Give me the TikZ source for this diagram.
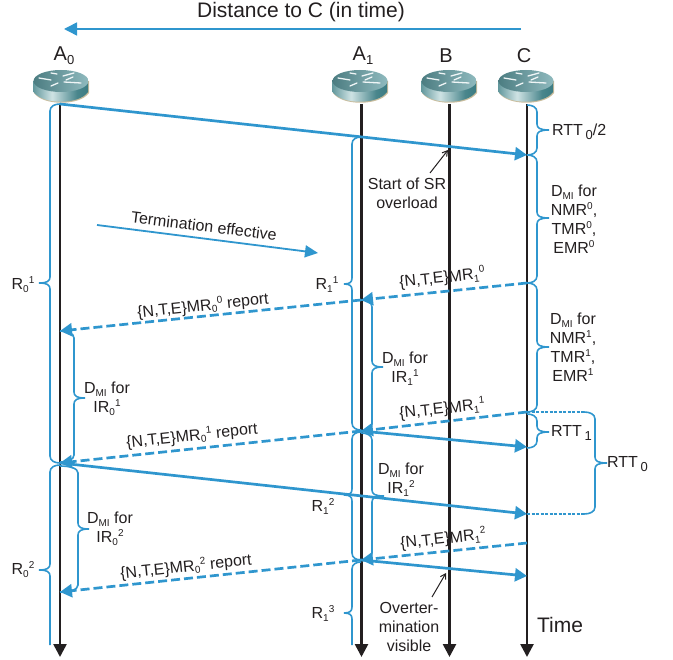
\documentclass[tikz,border=0pt]{standalone}
\usepackage{fontspec}
\setmainfont{Liberation Sans}
\usepackage{tikz}
\usetikzlibrary{arrows.meta}
\definecolor{msgblue}{HTML}{2F96CE}
\definecolor{inkblack}{HTML}{231F20}
\definecolor{routerdark}{HTML}{1C666E}
\definecolor{routerlight}{HTML}{CFE3E4}
\definecolor{routertop}{HTML}{5F9CA2}
\definecolor{routershadow}{HTML}{C9BC9C}
\pgfdeclarehorizontalshading{routerbody}{100bp}{color(0bp)=(routerdark); color(22bp)=(routerdark!70!routerlight); color(42bp)=(routerlight); color(65bp)=(routerdark!75!routerlight); color(100bp)=(routerdark)}
\newcommand{\subs}[1]{\raisebox{-3pt}{\fontsize{10}{10}\selectfont #1}}
\newcommand{\sups}[1]{\raisebox{6pt}{\fontsize{10}{10}\selectfont #1}}
\newcommand{\bigsubs}[1]{\raisebox{-4pt}{\fontsize{13}{13}\selectfont #1}}
% base x, body x, tip x, y top, y tip, y bottom
\newcommand{\curlybrace}[6]{\draw[bracepath] (#1,#4) .. controls ({(#1+#2)/2},#4) and (#2,#4+2) .. (#2,#4+7) -- (#2,#5-6) .. controls (#2,#5-2) and ({(3*#2+#3)/4},#5) .. (#3,#5) .. controls ({(3*#2+#3)/4},#5) and (#2,#5+2) .. (#2,#5+6) -- (#2,#6-7) .. controls (#2,#6-2) and ({(#1+#2)/2},#6) .. (#1,#6);}
\newcommand{\openbrace}[5]{\draw[bracepath] (#1,#4) .. controls ({(#1+#2)/2},#4) and (#2,#4+2) .. (#2,#4+7) -- (#2,#5-6) .. controls (#2,#5-2) and ({(3*#2+#3)/4},#5) .. (#3,#5) .. controls ({(3*#2+#3)/4},#5) and (#2,#5+2) .. (#2,#5+6) -- (#2,645);}
\tikzset{
  timeline/.style={inkblack,line width=2.6pt,-{Triangle[length=13pt,width=13pt]}},
  msgsolid/.style={msgblue,line width=2.7pt,-{Triangle[length=12pt,width=13pt]}},
  msgdashed/.style={msgsolid,dash pattern=on 9pt off 4pt},
  bracepath/.style={msgblue,line width=1.6pt},
  lbl/.style={inkblack,font=\fontsize{16}{19}\selectfont,align=center,inner sep=0pt},
  namelbl/.style={lbl,font=\fontsize{20}{22}\selectfont},
  pics/router/.style={code={
    \fill[routershadow] (-27,-4) -- (-27,8) .. controls (-18,21) and (19,21) .. (28,8) -- (28,-4) -- cycle;
    \shade[shading=routerbody] (-27.5,-4) -- (-27.5,7) .. controls (-18,20) and (18,20) .. (27,7) -- (27,-4) -- cycle;
    \shade[left color=routertop!80!black,right color=routertop!70!white] (0,-4) ellipse (27.5 and 11);
    \draw[white!90!routertop,line width=1.3pt,line cap=round] (-22,-7) -- (-10,-5) (3,-3) -- (20,-2) (-10,1) -- (-3,-2) (2,-9) -- (13,-12) (-4,-11) -- (-10,-12) (5,-5) -- (12,-8);
  }}
}
\begin{document}
\begin{tikzpicture}[x=1pt,y=-1pt]
\useasboundingbox (0,0) rectangle (673,660);
% ==================== ROUTERS ====================
\coordinate (A0top) at (60,104);
\coordinate (A1top) at (361.5,104);
\coordinate (Btop) at (449.5,104);
\coordinate (Ctop) at (527,104);
\coordinate (A0bot) at (60,657);
\coordinate (A1bot) at (361.5,657);
\coordinate (Bbot) at (449.5,657);
\coordinate (Cbot) at (527,657);
% Time lines
\draw[timeline] (A0top) -- (A0bot);
\draw[timeline] (A1top) -- (A1bot);
\draw[timeline] (Btop) -- (Bbot);
\draw[timeline] (Ctop) -- (Cbot);
\pic at (61,85) {router};
\pic at (360,85) {router};
\pic at (449,85) {router};
\pic at (526,85) {router};
\node[namelbl] (nameA0) at (64,56) {A\bigsubs{0}};
\node[namelbl] (nameA1) at (363,56) {A\bigsubs{1}};
\node[namelbl] (nameB) at (446,56) {B};
\node[namelbl] (nameC) at (524,56) {C};
% ==================== TOP ARROW ====================
\node[lbl,font=\fontsize{21}{23}\selectfont] (distance) at (301,12) {Distance to C (in time)};
\coordinate (distR) at (521,29);
\coordinate (distL) at (64,29);
\draw[msgblue,line width=1.5pt,-{Triangle[length=13pt,width=13pt]}] (distR) -- (distL);
% ==================== MESSAGES ====================
\coordinate (A0s1) at (60,104);
\coordinate (Cr1) at (527,155);
\coordinate (Cs2) at (527,283);
\coordinate (A1r2) at (361,300);
\coordinate (A0r2) at (60,331);
\coordinate (Cs3) at (527,412);
\coordinate (A1r3) at (361,431);
\coordinate (A0r3) at (60,463);
\coordinate (Cr3) at (527,447);
\coordinate (Cr4) at (527,514);
\coordinate (Cs5) at (527,543);
\coordinate (A1r5) at (361,560);
\coordinate (A0r5) at (60,592);
\coordinate (Cr5) at (527,576);
\draw[msgsolid] (A0s1) -- (Cr1);
\draw[msgdashed] (Cs2) -- (A1r2);
\draw[msgdashed] (A1r2) -- (A0r2);
\draw[msgdashed] (Cs3) -- (A1r3);
\draw[msgdashed] (A1r3) -- (A0r3);
\draw[msgsolid] (A1r3) -- (Cr3);
\draw[msgsolid] (A0r3) -- (Cr4);
\draw[msgdashed] (Cs5) -- (A1r5);
\draw[msgdashed] (A1r5) -- (A0r5);
\draw[msgsolid] (A1r5) -- (Cr5);
% Termination arrow
\coordinate (termL) at (97,225);
\coordinate (termR) at (318,253);
\draw[msgblue,line width=1.8pt,-{Triangle[length=13pt,width=12pt]}] (termL) -- (termR);
\node[lbl,rotate=-7] (termtxt) at (204,226) {Termination effective};
% Message labels
\node[lbl,rotate=6] (mrC0) at (442,278) {\{N,T,E\}MR\subs{1}\sups{0}};
\node[lbl,rotate=6] (mrA0) at (203,306) {\{N,T,E\}MR\subs{0}\sups{0} report};
\node[lbl,rotate=6] (mrC1) at (442,409) {\{N,T,E\}MR\subs{1}\sups{1}};
\node[lbl,rotate=6] (mrA1) at (192,436) {\{N,T,E\}MR\subs{0}\sups{1} report};
\node[lbl,rotate=6] (mrC2) at (443,539) {\{N,T,E\}MR\subs{1}\sups{2}};
\node[lbl,rotate=6] (mrA2) at (186,567) {\{N,T,E\}MR\subs{0}\sups{2} report};
% ==================== BRACES ====================
\curlybrace{60}{50}{39}{104}{283}{463}
\openbrace{60}{50}{39}{465}{570}
\curlybrace{361}{352}{344}{137}{284}{430}
\curlybrace{361}{352}{344}{432}{495}{560}
\openbrace{361}{352}{344}{562}{613}
\curlybrace{527}{537}{549}{105}{130}{155}
\curlybrace{527}{537}{549}{155}{218}{283}
\curlybrace{527}{537}{549}{283}{347}{412}
\curlybrace{527}{537}{549}{414}{432}{448}
\curlybrace{361}{372}{383}{300}{367}{431}
\curlybrace{361}{372}{384}{433}{496}{560}
\curlybrace{60}{74}{85}{331}{398}{462}
\curlybrace{60}{78}{89}{466}{529}{592}
% RTT0 brace with dotted leaders
\coordinate (rttTL) at (584,412);
\coordinate (rttBL) at (584,514);
\draw[msgblue,line width=1.3pt,dash pattern=on 3pt off 1.5pt] (Cs3) -- (rttTL);
\draw[msgblue,line width=1.3pt,dash pattern=on 3pt off 1.5pt] (Cr4) -- (rttBL);
\curlybrace{584}{595}{607}{412}{463}{514}
% Brace labels
\node[lbl] (r01) at (23,285) {R\subs{0}\sups{1}};
\node[lbl] (r02) at (23,570) {R\subs{0}\sups{2}};
\node[lbl] (r11) at (327,285) {R\subs{1}\sups{1}};
\node[lbl] (r12) at (323,507) {R\subs{1}\sups{2}};
\node[lbl] (r13) at (323,614) {R\subs{1}\sups{3}};
\node[lbl,anchor=west] (rtthalf) at (552,132) {RTT\,\bigsubs{0}/2};
\node[lbl,anchor=west] (rtt1) at (551,433) {RTT\,\bigsubs{1}};
\node[lbl,anchor=west] (rtt0) at (607,464) {RTT\,\bigsubs{0}};
\node[lbl] (dmiC0) at (574,219) {D\subs{MI} for\\NMR\sups{0},\\TMR\sups{0},\\EMR\sups{0}};
\node[lbl] (dmiC1) at (573,347) {D\subs{MI} for\\NMR\sups{1},\\TMR\sups{1},\\EMR\sups{1}};
\node[lbl] (dmiA11) at (405,369) {D\subs{MI} for\\IR\subs{1}\sups{1}};
\node[lbl] (dmiA12) at (401,480) {D\subs{MI} for\\IR\subs{1}\sups{2}};
\node[lbl] (dmiA01) at (107,399) {D\subs{MI} for\\IR\subs{0}\sups{1}};
\node[lbl] (dmiA02) at (110,529) {D\subs{MI} for\\IR\subs{0}\sups{2}};
% ==================== NOTES ====================
\node[lbl] (srtxt) at (407,193) {Start of SR\\overload};
\coordinate (srS) at (430,173);
\coordinate (srE) at (448,150);
\draw[-{Straight Barb[length=5pt,width=6pt]},inkblack,line width=1pt] (srS) -- (srE);
\node[lbl] (overtxt) at (409,627) {Overter-\\mination\\visible};
\coordinate (ovS) at (432,597);
\coordinate (ovE) at (446,573);
\draw[-{Straight Barb[length=5pt,width=6pt]},inkblack,line width=1pt] (ovS) -- (ovE);
\node[lbl,font=\fontsize{21}{23}\selectfont] (timetxt) at (560,625) {Time};
\end{tikzpicture}
\end{document}
